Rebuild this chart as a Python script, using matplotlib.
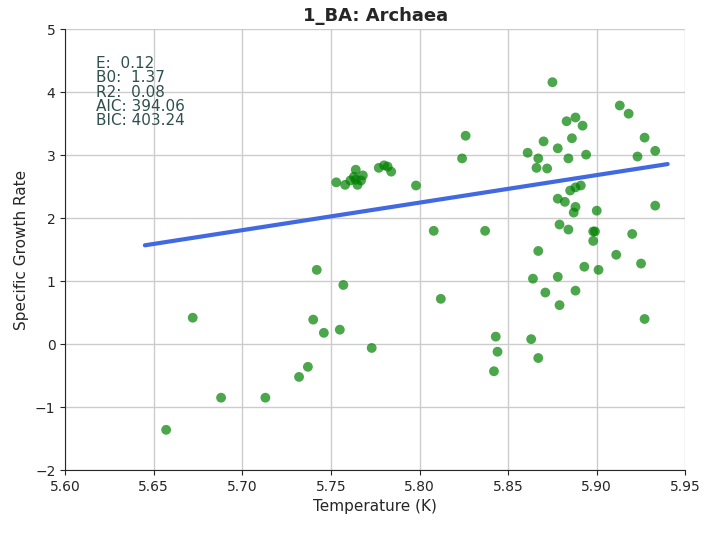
import numpy as np
import matplotlib.pyplot as plt
import seaborn as sns

sns.set_style("ticks")
plt.rcParams['font.family'] = ['DejaVu Sans']

temp = [5.657, 5.672, 5.688, 5.713, 5.732, 5.737, 5.740, 5.742, 5.746, 5.755, 5.757, 5.773,
        5.753, 5.758, 5.761, 5.763, 5.764, 5.764, 5.765, 5.767, 5.768, 5.777, 5.780, 5.782,
        5.784, 5.798, 5.808, 5.812, 5.824, 5.826, 5.837, 5.842, 5.843, 5.844, 5.861, 5.863,
        5.864, 5.866, 5.867, 5.867, 5.867, 5.870, 5.871, 5.872, 5.875, 5.878, 5.878, 5.878,
        5.879, 5.879, 5.882, 5.883, 5.884, 5.884, 5.885, 5.886, 5.887, 5.888, 5.888, 5.888,
        5.888, 5.891, 5.892, 5.893, 5.894, 5.898, 5.898, 5.899, 5.900, 5.901, 5.911, 5.913,
        5.918, 5.920, 5.923, 5.925, 5.927, 5.927, 5.933, 5.933]
growth = [-1.36, 0.42, -0.85, -0.85, -0.52, -0.36, 0.39, 1.18, 0.18, 0.23, 0.94, -0.06,
          2.57, 2.53, 2.60, 2.66, 2.77, 2.61, 2.53, 2.60, 2.68, 2.80, 2.84, 2.82,
          2.74, 2.52, 1.80, 0.72, 2.95, 3.31, 1.80, -0.43, 0.12, -0.12, 3.04, 0.08,
          1.04, 2.80, 1.48, 2.95, -0.22, 3.22, 0.82, 2.79, 4.16, 3.11, 1.07, 2.31,
          1.90, 0.62, 2.26, 3.54, 2.95, 1.82, 2.44, 3.27, 2.09, 2.49, 0.85, 3.60,
          2.18, 2.52, 3.47, 1.23, 3.01, 1.79, 1.64, 1.79, 2.12, 1.18, 1.42, 3.79,
          3.66, 1.75, 2.98, 1.28, 0.40, 3.28, 3.07, 2.20]
fit_x = [5.645, 5.94]
fit_y = [1.57, 2.86]
stats_text = "E:  0.12\nB0:  1.37\nR2:  0.08\nAIC: 394.06\nBIC: 403.24"

fig, ax = plt.subplots(figsize=(7.08, 5.33), dpi=100)
ax.scatter(temp, growth, s=50, color='green', alpha=0.7, edgecolors='none')
ax.plot(fit_x, fit_y, color='royalblue', lw=3)
ax.set_xlim(5.60, 5.95)
ax.set_ylim(-2, 5)
ax.set_xticks(np.arange(5.60, 5.951, 0.05))
ax.grid(True, color='#cccccc', lw=1)
ax.set_axisbelow(True)
sns.despine(ax=ax)
ax.set_title("1_BA: Archaea", fontsize=13, fontweight='bold')
ax.set_xlabel("Temperature (K)", fontsize=11)
ax.set_ylabel("Specific Growth Rate", fontsize=11)
ax.tick_params(labelsize=10)
ax.text(0.05, 0.94, stats_text, transform=ax.transAxes, va='top', ha='left',
        fontsize=11, color='darkslategray', linespacing=0.95)
fig.subplots_adjust(left=0.092, right=0.968, top=0.945, bottom=0.118)
fig.savefig("out.png")
